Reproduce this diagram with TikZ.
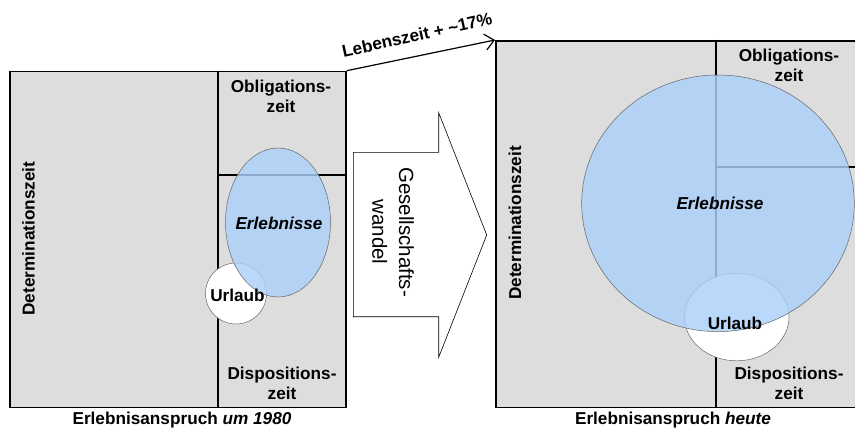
\documentclass[tikz,border=0pt]{standalone}
\usepackage{fontspec}
\setmainfont{Liberation Sans}
\usetikzlibrary{arrows.meta,shapes.geometric}
\definecolor{boxgray}{RGB}{221,221,221}
\definecolor{erlblue}{RGB}{172,208,250}
\tikzset{
  box/.style={draw=black, line width=1.7pt, fill=boxgray, inner sep=0pt, anchor=north west},
  divider/.style={draw=black, line width=1.7pt},
  lbl/.style={font=\fontsize{17.2}{20}\selectfont\bfseries, align=center, inner sep=0pt},
  vlbl/.style={lbl, rotate=90},
  erl/.style={draw=black!60, line width=0.5pt, fill=erlblue, fill opacity=0.82, inner sep=0pt},
  urlaubshape/.style={draw=black!60, line width=0.5pt, fill=white, inner sep=0pt},
}
\begin{document}
\begin{tikzpicture}[x=1pt,y=-1pt]
\useasboundingbox (0,0) rectangle (855,436);
% left panel
\node[box, minimum width=336pt, minimum height=336pt] (L) at (9,70.7) {};
\draw[divider] (218,70.7) -- (218,406.7);
\draw[divider] (218,175) -- (345,175);
\node[urlaubshape, circle, minimum size=61pt] (LU) at (236,293.5) {};
\node[erl, ellipse, minimum width=105pt, minimum height=149pt] (LE) at (278,222.5) {};
\node[vlbl] (LDet) at (28.5,238.5) {Determinationszeit};
\node[lbl] (LObl) at (281,96) {Obligations-\\zeit};
\node[lbl] (LDis) at (282,383) {Dispositions-\\zeit};
\node[lbl, font=\fontsize{17.2}{20}\selectfont\bfseries\itshape] (LErl) at (279,223) {Erlebnisse};
\node[lbl] (LUrl) at (237.5,295) {Urlaub};
\node[lbl] (Lcap) at (182,420) {Erlebnisanspruch \textit{um 1980}};
% right panel
\node[box, minimum width=365pt, minimum height=366.7pt] (R) at (495,40) {};
\draw[divider] (715.7,40) -- (715.7,406.7);
\draw[divider] (715.7,167.3) -- (860,167.3);
\node[urlaubshape, ellipse, minimum width=104.6pt, minimum height=87.6pt] (RU) at (736.7,317) {};
\node[erl, ellipse, minimum width=272.6pt, minimum height=256.6pt] (RE) at (718,203.3) {};
\node[vlbl] (RDet) at (515,223) {Determinationszeit};
\node[lbl] (RObl) at (789,65) {Obligations-\\zeit};
\node[lbl] (RDis) at (789,383) {Dispositions-\\zeit};
\node[lbl, font=\fontsize{17.2}{20}\selectfont\bfseries\itshape] (RErl) at (720,203) {Erlebnisse};
\node[lbl] (RUrl) at (735,323) {Urlaub};
\node[lbl] (Rcap) at (673,420) {Erlebnisanspruch \textit{heute}};
% big arrow
\draw[black, line width=0.6pt, fill=white]
  (353.3,152.3) -- (438.7,152.3) -- (438.7,112.7) -- (486.7,235) -- (438.7,357.3) -- (438.7,316.7) -- (353.3,316.7) -- cycle;
\node[font=\fontsize{20.5}{26.7}\selectfont, align=center, rotate=-90, inner sep=0pt] (GW) at (393,232) {Gesellschafts-\\wandel};
% lifetime arrow
\draw[line width=1.2pt, -{Straight Barb[length=9pt,width=16pt,line width=1.2pt]}] (L.north east) -- (R.north west);
\node[lbl, rotate=12.5] (LZ) at (417,35) {Lebenszeit + \textasciitilde17\%};
\end{tikzpicture}
\end{document}
